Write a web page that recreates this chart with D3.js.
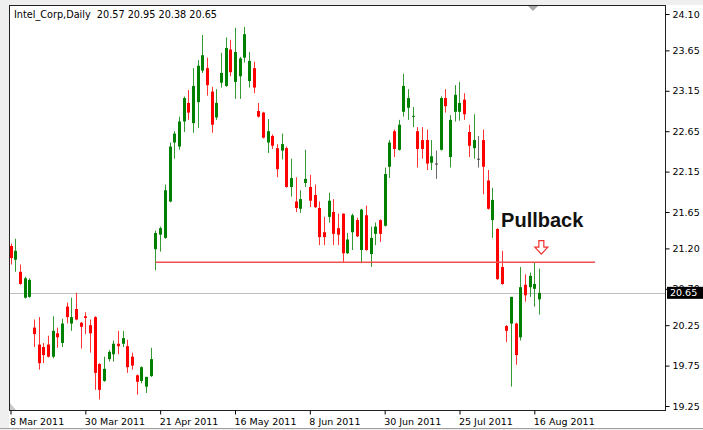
<!DOCTYPE html>
<html>
<head>
<meta charset="utf-8">
<script src="https://d3js.org/d3.v7.min.js"></script>
<style>
  body { margin: 0; background: #fff; }
  text { font-family: "DejaVu Sans", sans-serif; }
</style>
</head>
<body>
<div id="chart"></div>
<script>
// daily bars, Intel_Corp, 8 Mar 2011 .. 17 Aug 2011
const opens = [21.23,21.06,20.91,20.59,20.60,20.22,20.01,19.98,20.01,19.86,
  20.15,20.03,20.48,20.27,20.45,20.28,20.36,20.25,20.35,19.77,
  19.56,19.83,19.89,20.02,20.02,19.99,19.86,19.63,19.56,19.49,
  19.62,21.19,21.37,21.33,21.78,22.51,22.46,22.77,23.00,22.75,
  23.01,23.40,23.43,23.14,22.82,23.25,23.21,23.66,23.26,23.33,
  23.56,23.27,23.43,22.90,22.88,22.51,22.59,22.44,22.41,22.44,
  21.96,21.78,21.69,22.01,21.96,21.86,21.70,21.40,21.59,21.65,
  21.45,21.63,21.14,21.40,21.55,21.18,21.61,21.13,21.38,21.55,
  21.48,22.21,22.65,22.42,22.89,22.94,22.83,22.65,22.54,22.54,
  22.26,22.25,22.42,23.06,22.33,22.89,22.89,23.04,22.64,22.44,
  22.31,22.54,22.04,21.55,21.44,20.97,20.24,20.27,20.27,20.10,
  20.75,20.72,20.70,20.57];
const highs = [21.26,21.32,21.00,20.85,20.83,20.32,20.35,20.03,20.12,20.36,
  20.22,20.33,20.53,20.59,20.65,20.29,20.41,20.32,20.36,19.78,
  19.86,19.94,20.06,20.18,20.18,20.07,19.91,19.64,19.74,19.61,
  19.97,21.42,21.47,21.99,22.51,22.65,22.83,23.08,23.16,23.43,
  23.53,23.84,23.56,23.20,23.17,23.62,23.81,23.78,23.93,23.57,
  23.94,23.63,23.51,23.00,22.89,22.80,22.61,22.49,22.62,22.46,
  22.31,22.08,21.92,22.42,22.11,21.99,21.78,21.59,21.89,21.81,
  21.63,21.63,21.39,21.63,21.58,21.69,21.73,21.47,21.52,21.56,
  22.20,22.54,22.67,22.79,23.36,23.17,22.95,22.70,22.70,22.67,
  22.54,22.41,23.08,23.17,22.85,23.22,23.26,23.12,22.73,22.86,
  22.59,22.67,22.17,21.95,21.45,21.17,20.25,20.60,20.28,20.97,
  20.88,20.90,21.03,20.95];
const lows = [21.00,20.91,20.75,20.58,20.59,19.98,19.70,19.78,19.85,19.84,
  19.97,19.98,20.27,20.18,20.31,19.96,20.14,19.91,19.45,19.33,
  19.55,19.80,19.80,19.89,19.98,19.66,19.70,19.39,19.53,19.41,
  19.61,20.93,21.16,21.32,21.77,22.31,22.42,22.64,22.79,22.63,
  22.69,23.37,23.09,22.63,22.79,23.19,23.20,23.33,23.05,23.05,
  23.50,23.19,23.12,22.82,22.56,22.38,22.43,22.08,22.30,21.95,
  21.84,21.65,21.64,21.96,21.71,21.70,21.24,21.24,21.52,21.24,
  21.24,21.03,21.13,21.18,21.34,21.03,21.17,20.97,21.24,21.28,
  21.47,22.07,22.33,22.41,22.83,22.79,22.70,22.20,22.31,22.17,
  22.17,22.06,22.41,22.88,22.20,22.77,22.78,22.79,22.33,22.31,
  22.20,21.87,21.68,21.33,20.81,20.75,20.04,19.49,19.76,20.06,
  20.54,20.60,20.48,20.38];
const closes = [21.08,21.17,20.76,20.83,20.81,20.14,19.78,19.88,19.86,20.18,
  20.10,20.27,20.35,20.35,20.32,20.23,20.34,20.15,19.66,19.45,
  19.71,19.92,20.02,19.99,20.09,19.73,19.75,19.55,19.73,19.61,
  19.83,21.39,21.45,21.92,22.46,22.62,22.77,23.06,22.88,23.21,
  23.46,23.59,23.22,22.73,23.00,23.37,23.68,23.38,23.63,23.55,
  23.85,23.52,23.19,22.83,22.57,22.65,22.47,22.18,22.49,21.96,
  22.07,21.70,21.81,22.06,21.79,21.71,21.34,21.34,21.79,21.38,
  21.37,21.14,21.31,21.61,21.35,21.68,21.18,21.33,21.47,21.38,
  22.12,22.51,22.43,22.73,23.21,23.06,22.84,22.43,22.43,22.25,
  22.34,22.25,23.06,22.96,22.79,23.10,23.00,22.86,22.47,22.54,
  22.31,22.21,21.69,21.80,20.82,20.76,20.18,20.60,19.88,20.72,
  20.62,20.86,20.76,20.65];

const dateTickIdx = [0, 16, 32, 48, 64, 80, 96, 112];
const dateTickLabels = ["8 Mar 2011", "30 Mar 2011", "21 Apr 2011", "16 May 2011",
  "8 Jun 2011", "30 Jun 2011", "25 Jul 2011", "16 Aug 2011"];
const priceTicks = [24.10, 23.65, 23.15, 22.65, 22.15, 21.65, 21.20, 20.70, 20.25, 19.75, 19.25];

// annotations
const lastPrice = 20.65;
const levelPrice = 21.03, levelFrom = 31, levelTo = 125;
const arrowIdx = 113.5, arrowPrice = 21.13;
const noteText = "Pullback", noteIdx = 104.9, notePrice = 21.47;
const title = "Intel_Corp,Daily  20.57 20.95 20.38 20.65";

const W = 703, H = 430;
const plot = {left: 9.5, right: 665.5, top: 5.5, bottom: 410.5};

const svg = d3.select("#chart").append("svg")
  .attr("width", W).attr("height", H);

// window chrome
svg.append("rect").attr("width", W).attr("height", H).attr("fill", "#fff");
svg.append("rect").attr("x", 0).attr("y", 0).attr("width", 9).attr("height", 428).attr("fill", "#efefef");
svg.append("rect").attr("x", 0).attr("y", 0).attr("width", W).attr("height", 5).attr("fill", "#efefef");
svg.append("rect").attr("x", 0).attr("y", 428).attr("width", W).attr("height", 2).attr("fill", "#efefef");
svg.append("line").attr("x1", 0).attr("x2", W).attr("y1", 428.5).attr("y2", 428.5).attr("stroke", "#a0a0a0");
svg.append("rect").attr("x", 9).attr("y", 5).attr("width", 657).attr("height", 406).attr("fill", "#fff");

const x = d3.scaleLinear().domain([0, 113]).range([10.5, 539]);
const y = d3.scaleLinear().domain([19.25, 24.10]).range([406, 14]);

const bars = opens.map((o, i) => ({i: i, o: o, h: highs[i], l: lows[i], c: closes[i]}));
const colorOf = d => d.c > d.o ? "#008000" : (d.c < d.o ? "#ff0000" : "#444");

// current price line
svg.append("line")
  .attr("x1", plot.left).attr("x2", plot.right)
  .attr("y1", Math.round(y(lastPrice)) + 0.5).attr("y2", Math.round(y(lastPrice)) + 0.5)
  .attr("stroke", "#c0c0c0");

// candles
const cg = svg.append("g").attr("class", "candles");
cg.selectAll("line.wick").data(bars).enter().append("line")
  .attr("class", "wick")
  .attr("x1", d => Math.round(x(d.i)) + 0.5)
  .attr("x2", d => Math.round(x(d.i)) + 0.5)
  .attr("y1", d => y(d.h))
  .attr("y2", d => y(d.l))
  .attr("stroke", colorOf)
  .attr("stroke-opacity", 0.8);
cg.selectAll("rect.body").data(bars).enter().append("rect")
  .attr("class", "body")
  .attr("x", d => Math.round(x(d.i)) - 1)
  .attr("width", 3)
  .attr("y", d => y(Math.max(d.o, d.c)))
  .attr("height", d => Math.max(1, Math.abs(y(d.o) - y(d.c))))
  .attr("fill", colorOf);

// support level
svg.append("line")
  .attr("x1", x(levelFrom)).attr("x2", x(levelTo))
  .attr("y1", y(levelPrice)).attr("y2", y(levelPrice))
  .attr("stroke", "#f05050").attr("stroke-width", 1.5);

// arrow marker
svg.append("path")
  .attr("transform", `translate(${x(arrowIdx)},${y(arrowPrice)})`)
  .attr("d", "M-2.5,-13.5 L2.5,-13.5 L2.5,-7 L6.5,-7 L0,0 L-6.5,-7 L-2.5,-7 Z")
  .attr("fill", "#fff").attr("stroke", "#f03030").attr("stroke-width", 1.2);

svg.append("text")
  .attr("x", x(noteIdx)).attr("y", y(notePrice))
  .style("font-family", "'Liberation Sans', Arial, sans-serif")
  .style("font-weight", "bold").style("font-size", "20px")
  .attr("fill", "#111")
  .text(noteText);

// frame
svg.append("rect")
  .attr("x", plot.left).attr("y", plot.top)
  .attr("width", plot.right - plot.left).attr("height", plot.bottom - plot.top)
  .attr("fill", "none").attr("stroke", "#222");

// chrome triangles
svg.append("path").attr("d", "M528,6 L538,6 L533,11 Z").attr("fill", "#a8a8a8");
svg.append("path").attr("d", "M10,403 L10,410 L16,410 Z").attr("fill", "#c8c8c8");

// right price axis
const yAxis = svg.append("g")
  .attr("transform", `translate(${plot.right},0)`)
  .call(d3.axisRight(y).tickValues(priceTicks).tickFormat(d3.format(".2f")).tickSize(4).tickPadding(3));
yAxis.select(".domain").remove();
yAxis.selectAll("text").style("font-size", "9.5px").attr("fill", "#000");

// current price box (covers the 20.70 label like the terminal does)
const ly = y(lastPrice);
svg.append("rect").attr("x", 667).attr("y", ly - 6).attr("width", 36).attr("height", 12).attr("fill", "#000");
svg.append("text").attr("x", 670).attr("y", ly).attr("dy", "0.35em")
  .style("font-size", "9.5px").attr("fill", "#fff").text(d3.format(".2f")(lastPrice));

// bottom date axis
const xAxis = svg.append("g")
  .attr("transform", `translate(0,${plot.bottom})`)
  .call(d3.axisBottom(x).tickValues(dateTickIdx).tickFormat((d, i) => dateTickLabels[i]).tickSize(4));
xAxis.select(".domain").remove();
xAxis.selectAll("text")
  .attr("y", 14).attr("dy", 0).attr("x", -1)
  .style("text-anchor", "start").style("font-size", "9.5px").attr("fill", "#000");

// title
svg.append("text").attr("x", 14).attr("y", 18)
  .style("font-size", "9.7px").style("white-space", "pre").attr("fill", "#000")
  .text(title);
</script>
</body>
</html>
